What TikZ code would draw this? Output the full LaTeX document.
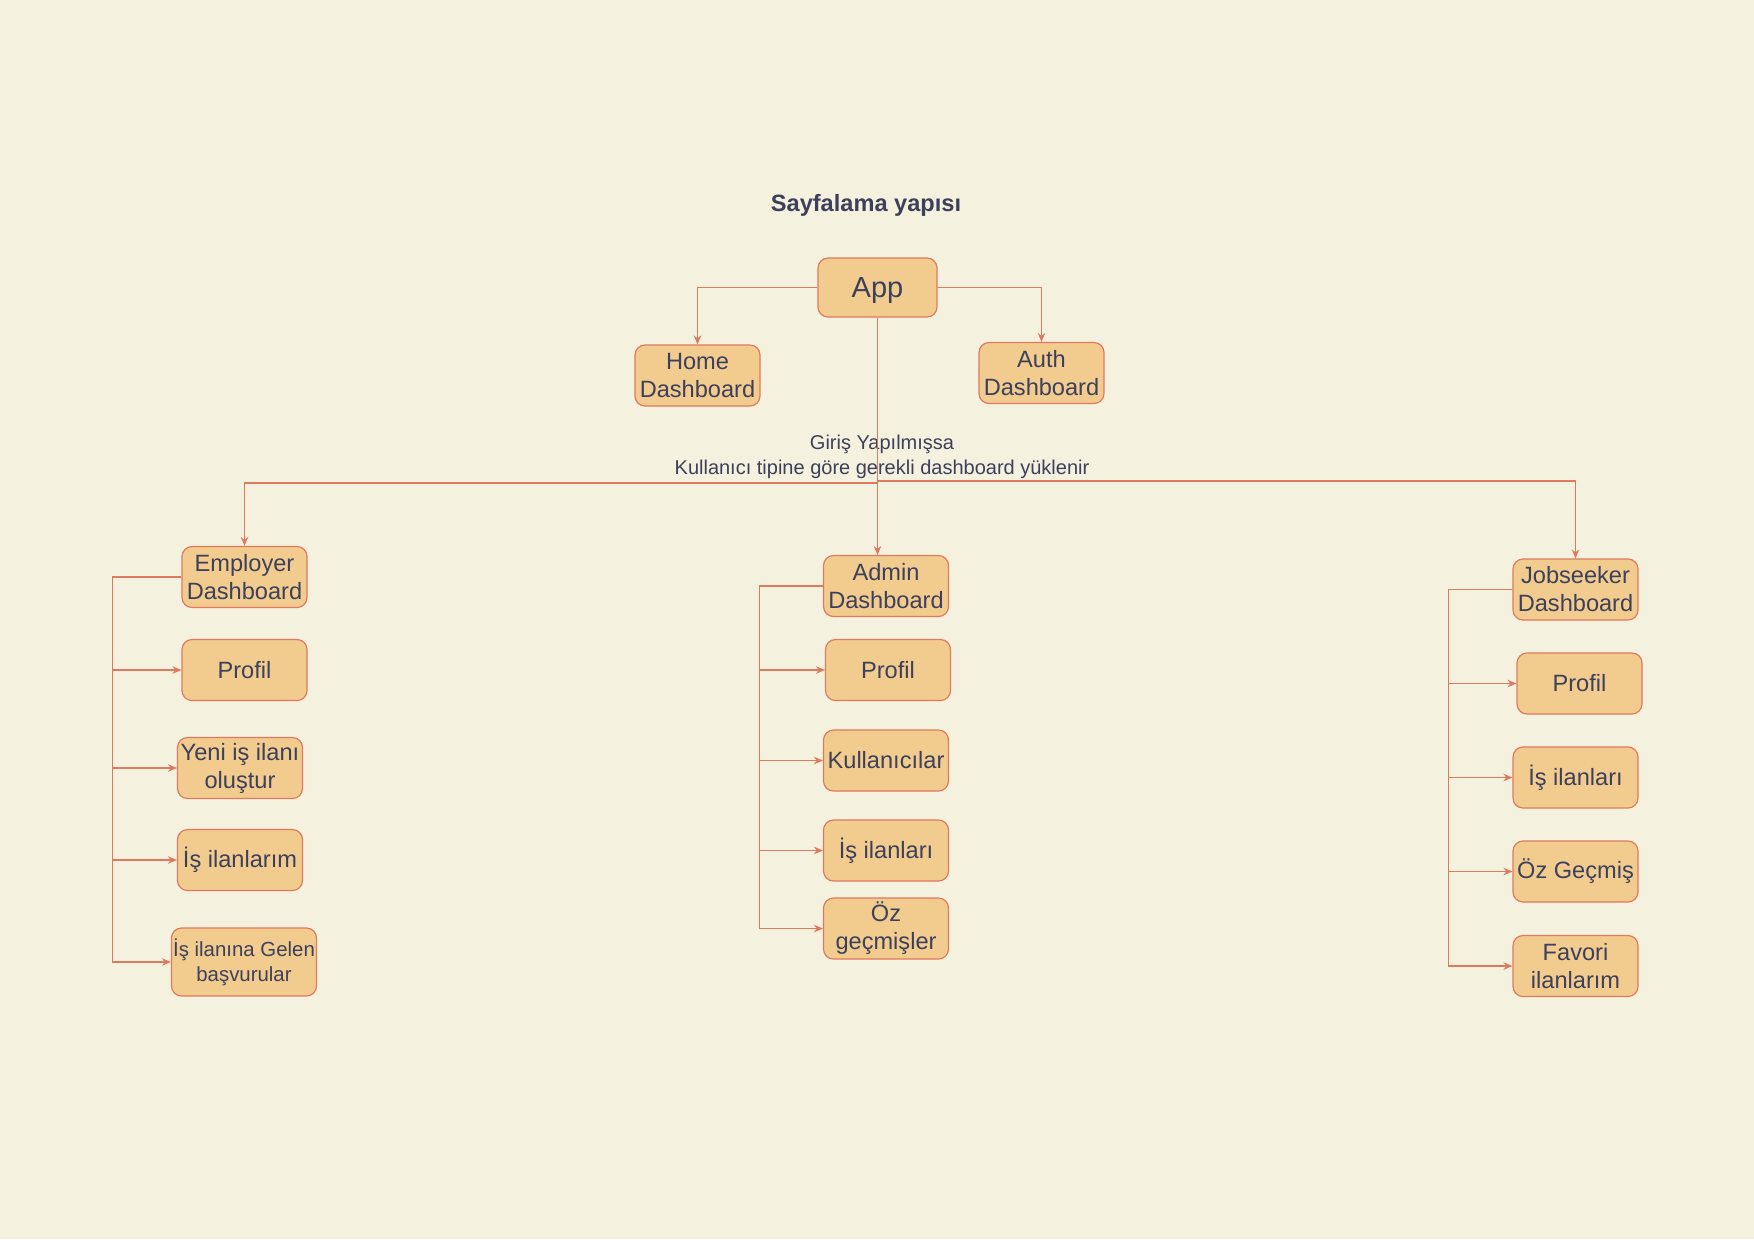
\documentclass[tikz,border=0pt]{standalone}
\usepackage{fontspec}
\setmainfont{Liberation Sans}
\usetikzlibrary{arrows.meta}

\definecolor{bgcol}{HTML}{F4F1DE}
\definecolor{boxfill}{HTML}{F2CC8F}
\definecolor{boxline}{HTML}{E07A5F}
\definecolor{ink}{HTML}{3D405B}

\tikzset{
  box/.style={draw=boxline, fill=boxfill, rounded corners=5pt, line width=0.6pt, text=ink,
    minimum width=62.5pt, minimum height=30.5pt, inner sep=0pt, align=center,
    font=\fontsize{11.8}{14}\selectfont},
  link/.style={draw=boxline, line width=0.6pt, -{Stealth[length=4.5pt,width=3.8pt]}},
}

\begin{document}
\begin{tikzpicture}[x=0.5pt,y=-0.5pt]

            % Page background
            \fill[bgcol] (0,0) rectangle (1754,1239);

            % Title and note
            \node (title) at (866,205) [text=ink, font=\bfseries\fontsize{11.8}{14}\selectfont] {Sayfalama yapısı};
            \node (note) at (882,457) [text=ink, align=center, font=\fontsize{10}{12.4}\selectfont] {Giriş Yapılmışsa\\Kullanıcı tipine göre gerekli dashboard yüklenir};

            % Top level
            \node (app) at (877.5,287.5) [box, minimum width=59.5pt, minimum height=29.5pt, text depth=0pt, font=\fontsize{14.5}{17}\selectfont] {App};
            \node (home) at (697.5,375.5) [box] {Home\\Dashboard};
            \node (auth) at (1041.5,373) [box] {Auth\\Dashboard};

            % Employer side
            \node (emp) at (244.5,577) [box] {Employer\\Dashboard};
            \node (ep) at (244.5,670) [box] {Profil};
            \node (ey) at (240,768) [box] {Yeni iş ilanı\\oluştur};
            \node (ei) at (240,860) [box] {İş ilanlarım};
            \node (eg) at (244,962) [box, minimum width=72.5pt, minimum height=34pt, font=\fontsize{10.2}{12.3}\selectfont] {İş ilanına Gelen\\başvurular};

            % Admin side
            \node (adm) at (886,586) [box] {Admin\\Dashboard};
            \node (ap) at (888,670) [box] {Profil};
            \node (ak) at (886,760.5) [box] {Kullanıcılar};
            \node (ai) at (886,850.5) [box] {İş ilanları};
            \node (ao) at (886,928.5) [box] {Öz\\geçmişler};

            % Jobseeker side
            \node (job) at (1575.5,589.5) [box] {Jobseeker\\Dashboard};
            \node (jp) at (1579.5,683.5) [box] {Profil};
            \node (ji) at (1575.5,777.5) [box] {İş ilanları};
            \node (jo) at (1575.5,871.5) [box] {Öz Geçmiş};
            \node (jf) at (1575.5,966) [box] {Favori\\ilanlarım};

            % Links from App
            \coordinate (splitL) at (877.5,483);
            \coordinate (splitR) at (877.5,481);
            \draw[link] (app.west) -| (home.north);
            \draw[link] (app.east) -| (auth.north);
            \draw[link] (app.south) -- (splitL) -| (emp.north);
            \draw[link] (app.south) -- (app.south |- adm.north);
            \draw[link] (app.south) -- (splitR) -| (job.north);

            % Links to pages
            \foreach \n in {ep,ey,ei,eg} \draw[link] (emp.west) -- ++(-69,0) |- (\n.west);
            \foreach \n in {ap,ak,ai,ao} \draw[link] (adm.west) -- ++(-63.5,0) |- (\n.west);
            \foreach \n in {jp,ji,jo,jf} \draw[link] (job.west) -- ++(-64,0) |- (\n.west);

\end{tikzpicture}
\end{document}
